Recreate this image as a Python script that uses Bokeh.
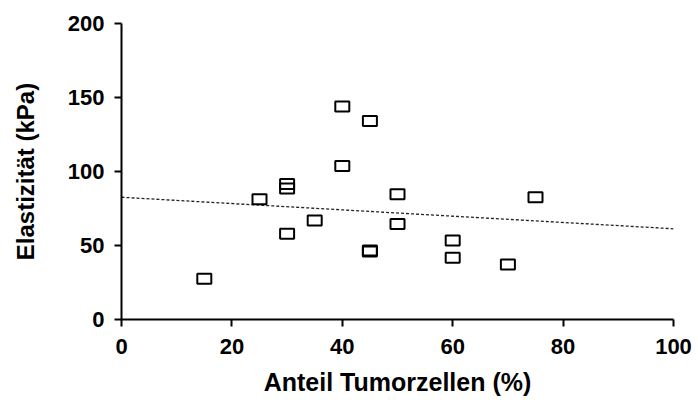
from bokeh.plotting import figure
from bokeh.models import Range1d, FixedTicker
from bokeh.embed import file_html
from bokeh.resources import INLINE

# data
tumor_pct = [15, 25, 30, 30, 30, 35, 40, 40, 45, 45, 45, 50, 50, 60, 60, 70, 75]
elasticity = [27.5, 81.3, 91.5, 88.5, 57.9, 66.9, 143.9, 103.8, 134.2, 46.6, 46.0, 84.7, 64.6, 53.4, 41.7, 37.2, 82.6]
fit_x = [0, 100]
fit_y = [82.6, 61.3]
x_ticks = [0, 20, 40, 60, 80, 100]
y_ticks = [0, 50, 100, 150, 200]

FONT = "Liberation Sans"

p = figure(width=698, height=405, output_backend="svg", toolbar_location=None,
           x_range=Range1d(0, 100), y_range=Range1d(0, 200),
           min_border_left=121, min_border_right=25, min_border_top=23, min_border_bottom=86)
p.outline_line_color = None
p.xgrid.visible = False
p.ygrid.visible = False
p.background_fill_color = "white"
p.border_fill_color = "white"

p.line(fit_x, fit_y, line_color="#222222", line_width=1.3, line_dash="3 2")
p.rect(tumor_pct, elasticity, width=14, height=10, width_units="screen", height_units="screen",
       fill_color=None, line_color="black", line_width=2)

for ax, ticks in ((p.xaxis[0], x_ticks), (p.yaxis[0], y_ticks)):
    ax.ticker = FixedTicker(ticks=ticks)
    ax.minor_tick_line_color = None
    ax.major_tick_in = 0
    ax.major_tick_out = 7
    ax.major_tick_line_width = 2
    ax.axis_line_width = 2
    ax.axis_line_color = "black"
    ax.major_tick_line_color = "black"
    ax.major_label_text_font = FONT
    ax.major_label_text_font_style = "bold"
    ax.major_label_text_font_size = "22px"
    ax.major_label_text_color = "black"
    ax.axis_label_text_font = FONT
    ax.axis_label_text_font_style = "bold"
    ax.axis_label_text_color = "black"

p.xaxis.axis_label = "Anteil Tumorzellen (%)"
p.yaxis.axis_label = "Elastizität (kPa)"
p.xaxis.axis_label_text_font_size = "25px"
p.yaxis.axis_label_text_font_size = "24px"
p.xaxis.major_label_standoff = 12
p.yaxis.major_label_standoff = 10
p.xaxis.axis_label_standoff = 11
p.yaxis.axis_label_standoff = 26

open("out.html", "w").write(file_html(p, INLINE))
